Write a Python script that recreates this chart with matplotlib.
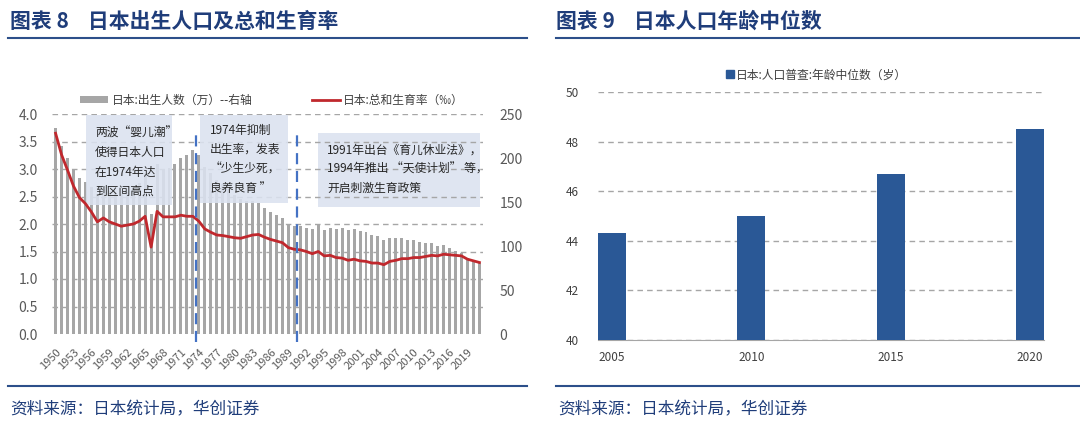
import numpy as np
import matplotlib
matplotlib.use("Agg")
import matplotlib.pyplot as plt
from matplotlib.patches import Rectangle, Patch
from matplotlib.lines import Line2D

plt.rcParams['font.family'] = ['Noto Sans CJK SC', 'DejaVu Sans']

# 日本出生人数（万）与总和生育率, 1950-2021
years = list(range(1950, 2022))
births = [233.7, 213.8, 200.5, 186.8, 177.0, 173.1, 166.5, 156.7, 165.3, 162.6,
          160.6, 158.9, 161.9, 166.0, 171.7, 182.4, 136.1, 193.5, 187.2, 188.9,
          193.4, 200.1, 203.9, 209.2, 203.0, 190.1, 183.3, 175.5, 170.9, 164.3,
          157.7, 152.9, 151.5, 150.9, 149.0, 143.2, 138.3, 134.7, 131.4, 124.7,
          122.2, 122.3, 120.9, 118.8, 123.8, 118.7, 120.7, 119.2, 120.3, 117.8,
          119.1, 117.1, 115.4, 112.4, 111.1, 106.3, 109.3, 109.0, 109.1, 107.0,
          107.1, 105.1, 103.7, 103.0, 100.4, 100.6, 97.7, 94.6, 91.8, 86.5,
          84.1, 81.2]
tfr = [3.65, 3.26, 2.98, 2.69, 2.48, 2.37, 2.22, 2.04, 2.11, 2.04,
       2.00, 1.96, 1.98, 2.00, 2.05, 2.14, 1.58, 2.23, 2.13, 2.13,
       2.13, 2.16, 2.14, 2.14, 2.05, 1.91, 1.85, 1.80, 1.79, 1.77,
       1.75, 1.74, 1.77, 1.80, 1.81, 1.76, 1.72, 1.69, 1.66, 1.57,
       1.54, 1.53, 1.50, 1.46, 1.50, 1.42, 1.43, 1.39, 1.38, 1.34,
       1.36, 1.33, 1.32, 1.29, 1.29, 1.26, 1.32, 1.34, 1.37, 1.37,
       1.39, 1.39, 1.41, 1.43, 1.42, 1.45, 1.44, 1.43, 1.42, 1.36,
       1.33, 1.30]
policy_marks = [1973.5, 1990.5]

# 年龄中位数
census_years = ['2005', '2010', '2015', '2020']
median_age = [44.3, 45.0, 46.7, 48.5]

navy = '#1f3d7a'
gray_txt = '#595959'
grid_c = '#a6a6a6'

fig = plt.figure(figsize=(10.8, 4.32), dpi=100)

# ---- headers / footers ----
fig.text(10 / 1080, 1 - 21 / 432, '图表 8    日本出生人口及总和生育率', fontsize=15,
         fontweight='bold', color=navy, va='center')
fig.text(556 / 1080, 1 - 21 / 432, '图表 9    日本人口年龄中位数', fontsize=15,
         fontweight='bold', color=navy, va='center')
for x0, x1 in [(8, 527), (556, 1080)]:
    for yy in (38, 386):
        fig.add_artist(Line2D([x0 / 1080, x1 / 1080], [1 - yy / 432] * 2,
                              color='#2c4f8a', lw=1.5))
    fig.text((x0 + 2) / 1080, 1 - 410 / 432, '资料来源：日本统计局，华创证券',
             fontsize=12, style='italic', color=navy, va='center')

# ---- left chart ----
ax = fig.add_axes([52 / 1080, 1 - 334 / 432, 431 / 1080, 220 / 432])
ax.bar(years, births, width=0.5, color='#a6a6a6', zorder=2)
ax.set_ylim(0, 250)
ax.set_xlim(1949.4, 2021.6)
ax.set_xticks(years[::3])
ax.set_xticklabels([str(y) for y in years[::3]], rotation=45, ha='right',
                   rotation_mode='anchor', fontsize=8, color=gray_txt)
for s in ax.spines.values():
    s.set_visible(False)

ax2 = ax.twinx()
# twinx moves the host ticks to the left, so set sides afterwards
ax.yaxis.tick_right()
ax.set_yticks(range(0, 251, 50))
ax.tick_params(axis='both', length=0, colors=gray_txt)
ax.tick_params(axis='y', labelsize=10, pad=12)
ax.tick_params(axis='x', pad=9)

ax2.set_ylim(0, 4)
ax2.yaxis.tick_left()
ax2.set_yticks(np.arange(0, 4.01, 0.5))
ax2.set_yticklabels(['%.1f' % v for v in np.arange(0, 4.01, 0.5)])
ax2.tick_params(axis='y', length=0, labelsize=10, colors=gray_txt, pad=10)
for s in ax2.spines.values():
    s.set_visible(False)
ax2.set_axisbelow(False)
ax2.grid(axis='y', color=grid_c, ls=(0, (4, 3)), lw=1)
ax2.get_ygridlines()[0].set_visible(False)
ax2.plot(years, tfr, color='#c0282d', lw=2, zorder=5)

for xm in policy_marks:
    ax2.axvline(xm, ymin=-0.036, ymax=0.91, color='#4472c4', lw=1.6,
                ls=(0, (5, 3)), zorder=6, clip_on=False)

boxes = [
    (1955.1, 2.35, 14.4, 1.63, 3, '两波“婴儿潮”\n使得日本人口\n在1974年达\n到区间高点', 1956.6, 3.76),
    (1974.2, 2.38, 14.7, 1.60, 3, '1974年抑制\n出生率，发表\n“少生少死，\n良养良育 ”', 1975.8, 3.82),
    (1993.9, 2.31, 27.2, 1.34, 2.2, '1991年出台《育儿休业法》，\n1994年推出 “天使计划” 等，\n开启刺激生育政策', 1995.5, 3.46),
]
for bx, by, bw, bh, z, txt, tx, ty in boxes:
    ax2.add_patch(Rectangle((bx, by), bw, bh, facecolor='#dbe2f0', alpha=0.88,
                            edgecolor='none', zorder=z))
    ax2.text(tx, ty, txt, fontsize=8.5, color='#262626', va='top', ha='left',
             linespacing=1.62, zorder=7)

fig.legend(handles=[Patch(facecolor='#a6a6a6', label='日本:出生人数（万）--右轴'),
                    Line2D([], [], color='#c0282d', lw=2, label='日本:总和生育率（‰）')],
           loc='center', bbox_to_anchor=(272 / 1080, 1 - 100 / 432), ncol=2,
           frameon=False, fontsize=8.5, handlelength=2.4, handleheight=0.55,
           columnspacing=5, handletextpad=0.3, labelcolor='#404040')

# ---- right chart ----
axr = fig.add_axes([598 / 1080, 1 - 340 / 432, 446 / 1080, 248 / 432])
xr = np.arange(len(census_years))
axr.bar(xr, median_age, width=0.2, color='#2a5896', zorder=3)
axr.set_ylim(40, 50)
axr.set_yticks(range(40, 51, 2))
axr.set_xlim(-0.1, 3.1)
axr.set_xticks(xr)
axr.set_xticklabels(census_years)
axr.grid(axis='y', color=grid_c, ls=(0, (4, 3)), lw=1, zorder=0)
axr.tick_params(axis='both', length=0, labelsize=8.5, colors='#404040')
axr.tick_params(axis='y', pad=14)
axr.tick_params(axis='x', pad=8)
for k in ('top', 'right', 'left'):
    axr.spines[k].set_visible(False)
axr.spines['bottom'].set_color('#a6a6a6')
axr.legend(handles=[Line2D([], [], marker='s', ls='none', color='#2a5896', markersize=6,
                           label='日本:人口普查:年龄中位数（岁）')],
           loc='center', bbox_to_anchor=(0.49, 1 + 17 / 248), frameon=False,
           fontsize=8.5, handletextpad=0.1, handlelength=0.8, labelcolor='#404040')

fig.savefig('out.png', dpi=100)
